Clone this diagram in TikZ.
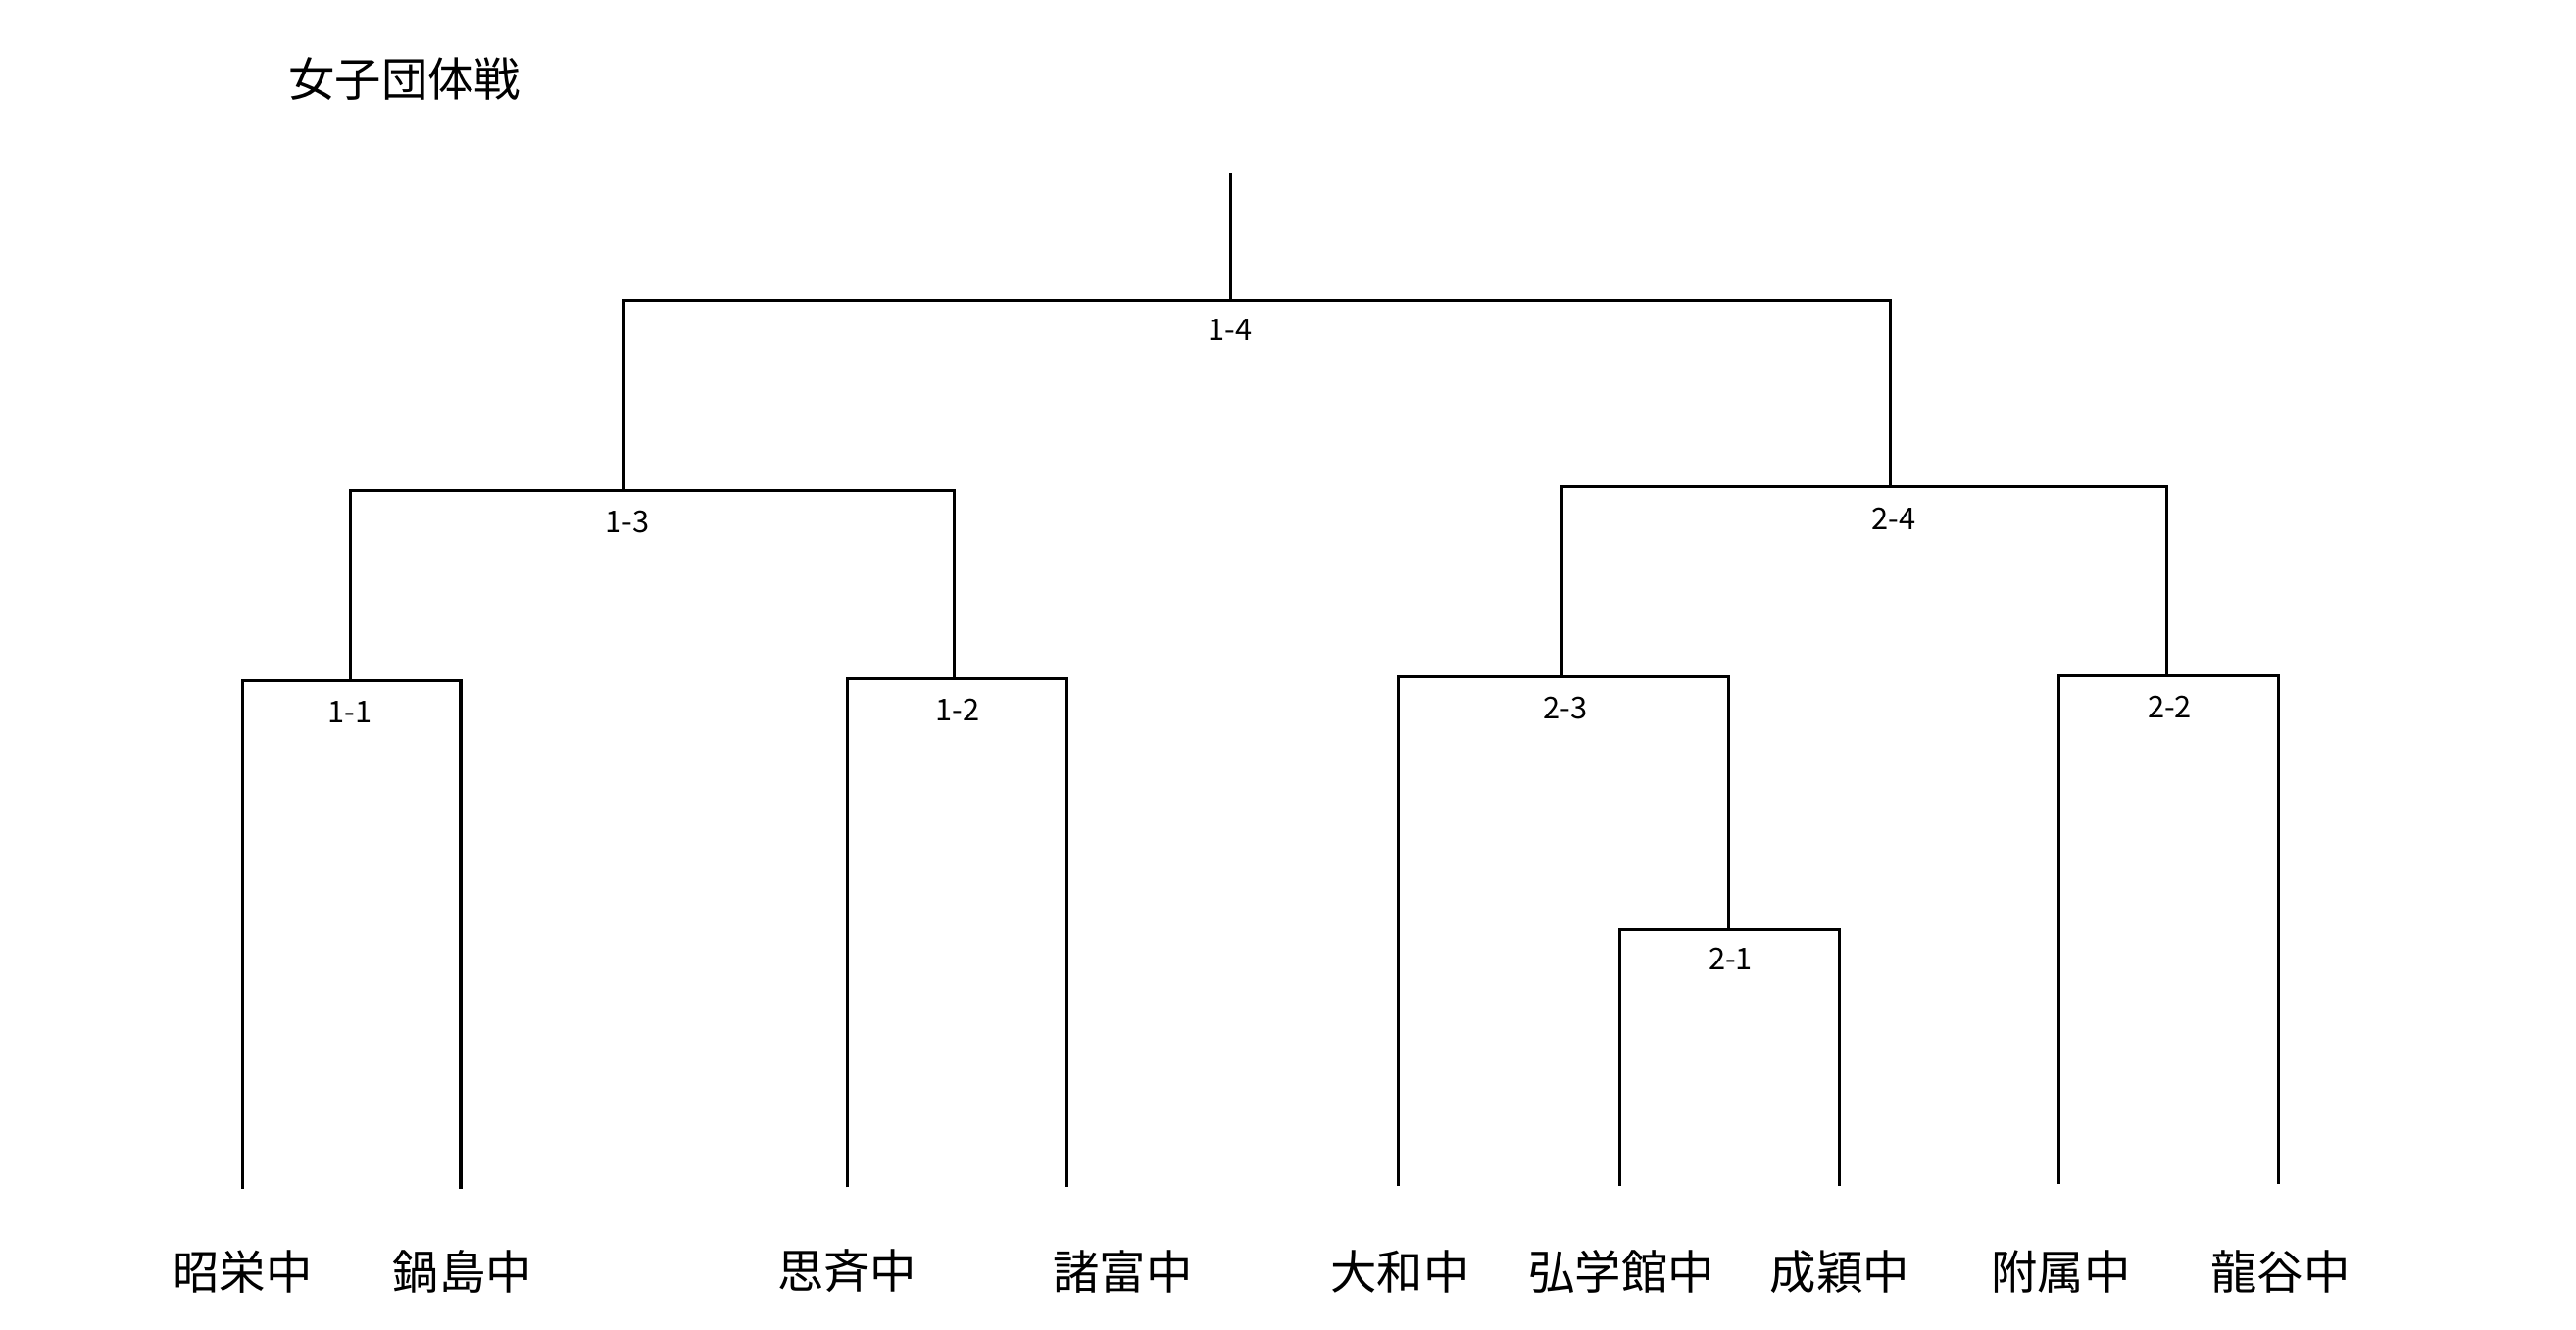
\documentclass[tikz,border=0pt]{standalone}
\usepackage{fontspec}
\newfontfamily\jp{Noto Sans CJK JP}
\begin{document}
\begin{tikzpicture}[x=0.05cm,y=-0.05cm,line width=0.09cm,
  team/.style={font=\jp\fontsize{40}{40}\selectfont,inner sep=0},
  lab/.style={font=\jp\fontsize{26}{26}\selectfont,inner sep=0}]
\useasboundingbox (0,0) rectangle (1560,805);
\node[team] (title) at (245,48) {女子団体戦};
% leaf coordinates
\coordinate (t1) at (147,720); \coordinate (t2) at (279,720);
\coordinate (t3) at (513,719); \coordinate (t4) at (646,719);
\coordinate (t5) at (847,718); \coordinate (t6) at (981,718);
\coordinate (t7) at (1114,718); \coordinate (t8) at (1247,717);
\coordinate (t9) at (1380,717);
% match junctions
\coordinate (m11) at (212,412); \coordinate (m12) at (578,411);
\coordinate (m21) at (1047,563); \coordinate (m22) at (1312,409);
\coordinate (m23) at (946,410); \coordinate (m13) at (378,297);
\coordinate (m24) at (1145,295); \coordinate (m14) at (745,182);
\coordinate (top) at (745,105);
\draw (t1) |- (m11) -| (t2);
\draw (t3) |- (m12) -| (t4);
\draw (t6) |- (m21) -| (t7);
\draw (t8) |- (m22) -| (t9);
\draw (t5) |- (m23) -| (m21);
\draw (m11) |- (m13) -| (m12);
\draw (m23) |- (m24) -| (m22);
\draw (m13) |- (m14) -| (m24);
\draw (m14) -- (top);
\node[lab] (l11) at (212,431) {1-1};
\node[lab] (l12) at (580,430) {1-2};
\node[lab] (l13) at (380,316) {1-3};
\node[lab] (l14) at (745,200) {1-4};
\node[lab] (l21) at (1048,581) {2-1};
\node[lab] (l22) at (1314,428) {2-2};
\node[lab] (l23) at (948,429) {2-3};
\node[lab] (l24) at (1147,314) {2-4};
\node[team] (n1) at (147,770) {昭栄中};
\node[team] (n2) at (280,770) {鍋島中};
\node[team] (n3) at (513,770) {思斉中};
\node[team] (n4) at (680,770) {諸富中};
\node[team] (n5) at (848,770) {大和中};
\node[team] (n6) at (982,770) {弘学館中};
\node[team] (n7) at (1114,770) {成穎中};
\node[team] (n8) at (1248,770) {附属中};
\node[team] (n9) at (1381,770) {龍谷中};
\end{tikzpicture}
\end{document}
